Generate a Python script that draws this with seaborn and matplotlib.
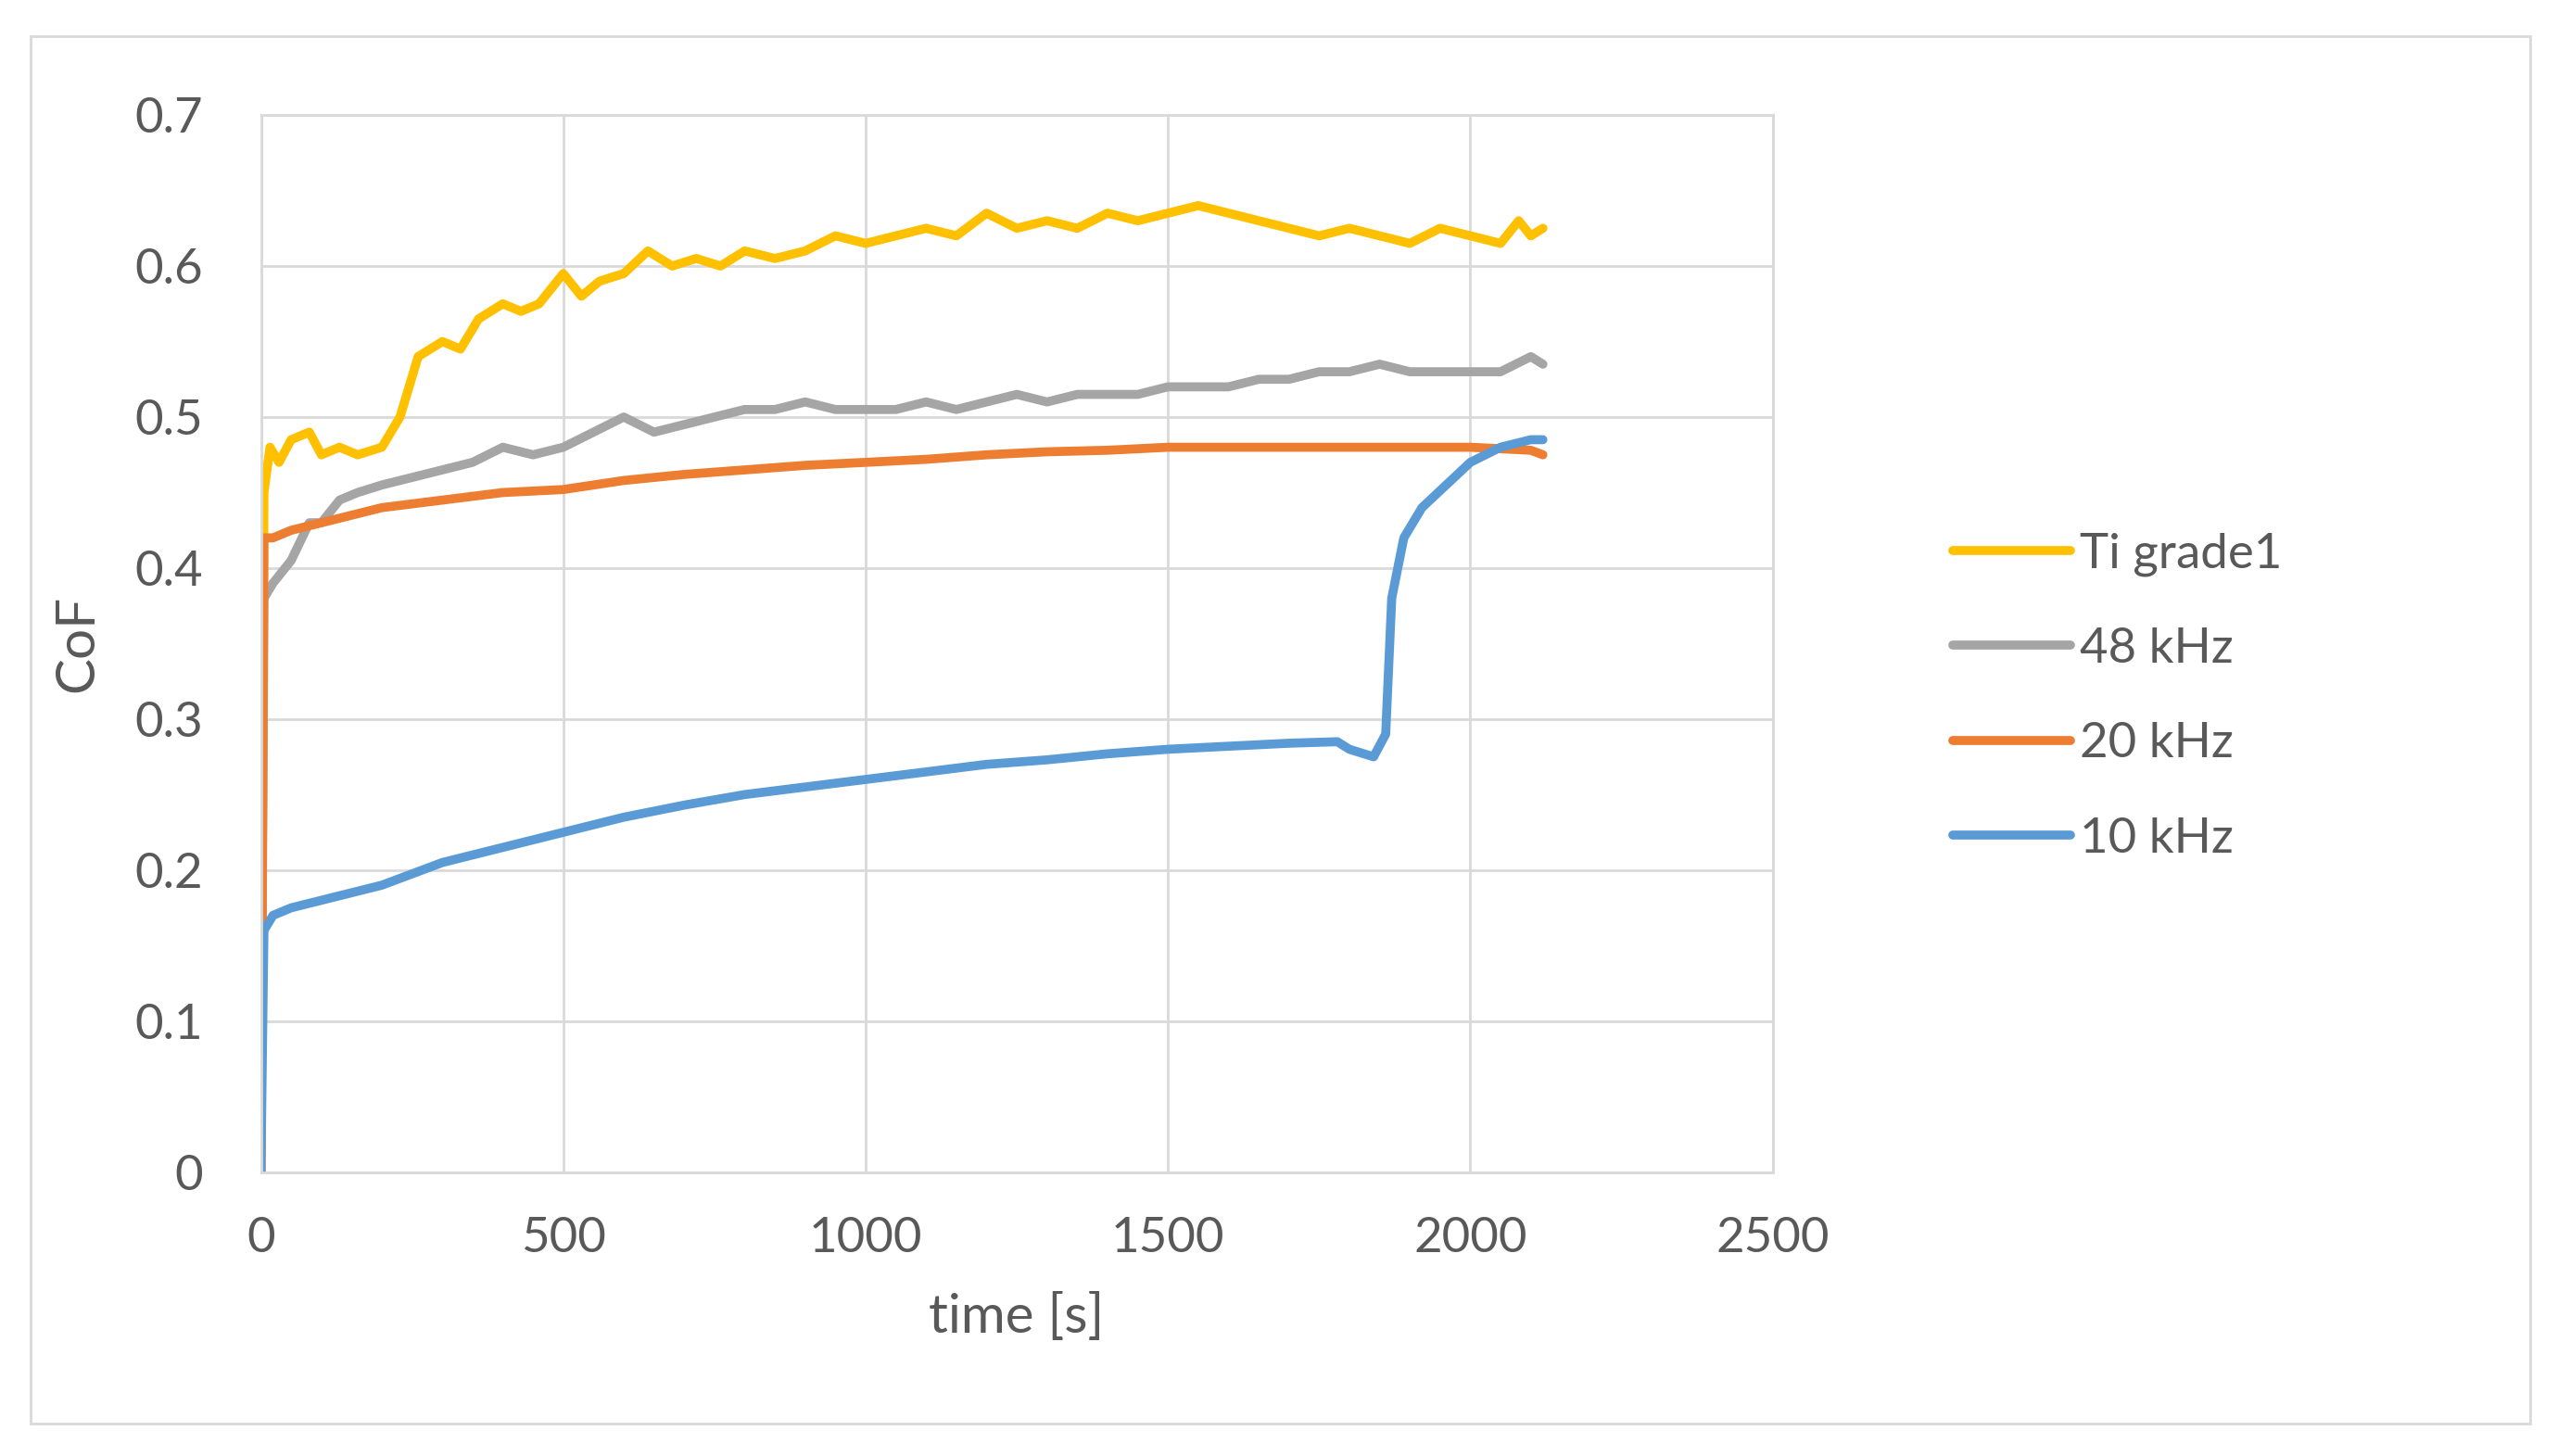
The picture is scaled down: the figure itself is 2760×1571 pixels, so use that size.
import pandas as pd
import numpy as np
from matplotlib import pyplot as plt
from matplotlib.patches import Rectangle
import seaborn as sns

# Ti grade1
ti_t = [0, 5, 15, 30, 50, 80, 100, 130, 160, 200, 230, 260, 300, 330, 360, 400, 430, 460, 500,
        530, 560, 600, 640, 680, 720, 760, 800, 850, 900, 950, 1000, 1050, 1100, 1150, 1200,
        1250, 1300, 1350, 1400, 1450, 1500, 1550, 1600, 1650, 1700, 1750, 1800, 1850, 1900,
        1950, 2000, 2050, 2080, 2100, 2120]
ti_v = [0.0, 0.45, 0.48, 0.47, 0.485, 0.49, 0.475, 0.48, 0.475, 0.48, 0.50, 0.54, 0.55, 0.545,
        0.565, 0.575, 0.57, 0.575, 0.595, 0.58, 0.59, 0.595, 0.61, 0.60, 0.605, 0.60, 0.61,
        0.605, 0.61, 0.62, 0.615, 0.62, 0.625, 0.62, 0.635, 0.625, 0.63, 0.625, 0.635, 0.63,
        0.635, 0.64, 0.635, 0.63, 0.625, 0.62, 0.625, 0.62, 0.615, 0.625, 0.62, 0.615, 0.63,
        0.62, 0.625]

# 48 kHz
k48_t = [0, 5, 20, 50, 80, 100, 130, 160, 200, 250, 300, 350, 400, 450, 500, 550, 600, 650,
         700, 750, 800, 850, 900, 950, 1000, 1050, 1100, 1150, 1200, 1250, 1300, 1350, 1400,
         1450, 1500, 1550, 1600, 1650, 1700, 1750, 1800, 1850, 1900, 1950, 2000, 2050, 2100, 2120]
k48_v = [0.0, 0.38, 0.39, 0.405, 0.43, 0.43, 0.445, 0.45, 0.455, 0.46, 0.465, 0.47, 0.48, 0.475,
         0.48, 0.49, 0.50, 0.49, 0.495, 0.50, 0.505, 0.505, 0.51, 0.505, 0.505, 0.505, 0.51,
         0.505, 0.51, 0.515, 0.51, 0.515, 0.515, 0.515, 0.52, 0.52, 0.52, 0.525, 0.525, 0.53,
         0.53, 0.535, 0.53, 0.53, 0.53, 0.53, 0.54, 0.535]

# 20 kHz
k20_t = [0, 5, 20, 50, 100, 150, 200, 300, 400, 500, 600, 700, 800, 900, 1000, 1100, 1200,
         1300, 1400, 1500, 1600, 1700, 1800, 1900, 2000, 2100, 2120]
k20_v = [0.0, 0.42, 0.42, 0.425, 0.43, 0.435, 0.44, 0.445, 0.45, 0.452, 0.458, 0.462, 0.465,
         0.468, 0.47, 0.472, 0.475, 0.477, 0.478, 0.48, 0.48, 0.48, 0.48, 0.48, 0.48, 0.478, 0.475]

# 10 kHz
k10_t = [0, 5, 20, 50, 100, 200, 300, 400, 500, 600, 700, 800, 900, 1000, 1100, 1200, 1300,
         1400, 1500, 1600, 1700, 1780, 1800, 1840, 1860, 1870, 1890, 1920, 1960, 2000, 2050,
         2100, 2120]
k10_v = [0.0, 0.16, 0.17, 0.175, 0.18, 0.19, 0.205, 0.215, 0.225, 0.235, 0.243, 0.25, 0.255,
         0.26, 0.265, 0.27, 0.273, 0.277, 0.28, 0.282, 0.284, 0.285, 0.28, 0.275, 0.29, 0.38,
         0.42, 0.44, 0.455, 0.47, 0.48, 0.485, 0.485]

series = ["Ti grade1", "48 kHz", "20 kHz", "10 kHz"]
colors = ["#FFC000", "#A5A5A5", "#ED7D31", "#5B9BD5"]

frames = []
for name, t, v in zip(series, [ti_t, k48_t, k20_t, k10_t], [ti_v, k48_v, k20_v, k10_v]):
    frames.append(pd.DataFrame({"time": t, "CoF": v, "series": name}))
df = pd.concat(frames, ignore_index=True)

sns.set_style("white")
plt.rcParams['font.family'] = ['Lato', 'DejaVu Sans']

fig = plt.figure(figsize=(27.6, 15.71), dpi=100)
ax = fig.add_axes([0.102, 0.195, 0.591, 0.726])
fig.patches.append(Rectangle((0.012, 0.022), 0.977, 0.953, transform=fig.transFigure,
                             fill=False, edgecolor="#D9D9D9", linewidth=2))

sns.lineplot(data=df, x="time", y="CoF", hue="series", palette=colors, hue_order=series,
             linewidth=7, ax=ax, estimator=None, sort=False)

ax.set_xlim(0, 2500)
ax.set_ylim(0, 0.7)
ax.set_xticks(np.arange(0, 2501, 500))
ax.set_yticks(np.arange(0, 0.71, 0.1))
ax.set_yticklabels(["0", "0.1", "0.2", "0.3", "0.4", "0.5", "0.6", "0.7"])
ax.grid(True, color="#D9D9D9", linewidth=2)
for s in ax.spines.values():
    s.set_color("#D9D9D9")
    s.set_linewidth(2)
ax.tick_params(labelsize=38, colors="#595959", length=0)
ax.tick_params(axis="y", pad=45)
ax.tick_params(axis="x", pad=35)
ax.set_xlabel("time [s]", size=42, color="#595959", labelpad=25)
ax.set_ylabel("CoF", size=42, color="#595959", labelpad=25)

leg = ax.legend(loc="center left", bbox_to_anchor=(1.09, 0.45), frameon=False,
                fontsize=38, handlelength=2.4, labelspacing=1.05, handletextpad=0.2)
for line in leg.get_lines():
    line.set_linewidth(7)
for txt in leg.get_texts():
    txt.set_color("#595959")

fig.savefig("out.png", dpi=100)
